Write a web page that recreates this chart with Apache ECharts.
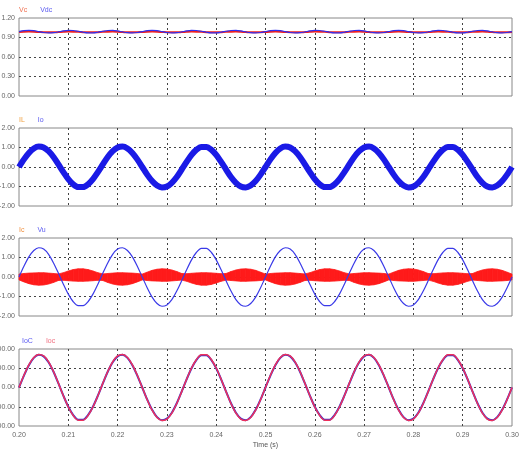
<!DOCTYPE html>
<html>
<head>
<meta charset="utf-8">
<script src="https://cdn.jsdelivr.net/npm/echarts@6/dist/echarts.min.js"></script>
<style>
html,body{margin:0;padding:0;background:#fff;}
#chart{width:520px;height:452px;}
</style>
</head>
<body>
<div id="chart"></div>
<script>
// sample times: 0.200 .. 0.300 s, 1 ms apart
var tStart = 0.2, tStep = 0.001, nPts = 101;
var xTicks = ['0.20','0.21','0.22','0.23','0.24','0.25','0.26','0.27','0.28','0.29','0.30'];

// panel 1
var vcVals = [
0.985,0.989,0.991,0.989,0.985,0.981,0.979,0.980,0.984,0.988,0.991,0.990,0.987,0.982,0.979,0.979,0.982,0.987,0.990,0.991,0.988,0.984,0.980,0.979,0.981,
0.985,0.989,0.991,0.989,0.985,0.981,0.979,0.980,0.984,0.988,0.991,0.990,0.987,0.982,0.979,0.979,0.982,0.987,0.990,0.991,0.988,0.984,0.980,0.979,0.981,
0.985,0.989,0.991,0.989,0.985,0.981,0.979,0.980,0.984,0.988,0.991,0.990,0.987,0.982,0.979,0.979,0.982,0.987,0.990,0.991,0.988,0.984,0.980,0.979,0.981,
0.985,0.989,0.991,0.989,0.985,0.981,0.979,0.980,0.984,0.988,0.991,0.990,0.987,0.982,0.979,0.979,0.982,0.987,0.990,0.991,0.988,0.984,0.980,0.979,0.981,
0.985];
var vdcVals = [
0.991,1.005,1.010,1.005,0.991,0.977,0.970,0.974,0.986,1.001,1.009,1.008,0.996,0.981,0.971,0.971,0.981,0.996,1.008,1.009,1.001,0.986,0.974,0.970,0.977,
0.991,1.005,1.010,1.005,0.991,0.977,0.970,0.974,0.986,1.001,1.009,1.008,0.996,0.981,0.971,0.971,0.981,0.996,1.008,1.009,1.001,0.986,0.974,0.970,0.977,
0.991,1.005,1.010,1.005,0.991,0.977,0.970,0.974,0.986,1.001,1.009,1.008,0.996,0.981,0.971,0.971,0.981,0.996,1.008,1.009,1.001,0.986,0.974,0.970,0.977,
0.991,1.005,1.010,1.005,0.991,0.977,0.970,0.974,0.986,1.001,1.009,1.008,0.996,0.981,0.971,0.971,0.981,0.996,1.008,1.009,1.001,0.986,0.974,0.970,0.977,
0.991];

// panel 2
var ilVals = [
0,0.37,0.69,0.91,1.00,0.95,0.77,0.48,0.13,-0.25,-0.59,-0.84,-0.98,-0.98,-0.84,-0.59,-0.25,0.13,0.48,0.77,0.95,1.00,0.91,0.69,0.37,
0,-0.37,-0.69,-0.91,-1.00,-0.95,-0.77,-0.48,-0.13,0.25,0.59,0.84,0.98,0.98,0.84,0.59,0.25,-0.13,-0.48,-0.77,-0.95,-1.00,-0.91,-0.69,-0.37,
0,0.37,0.69,0.91,1.00,0.95,0.77,0.48,0.13,-0.25,-0.59,-0.84,-0.98,-0.98,-0.84,-0.59,-0.25,0.13,0.48,0.77,0.95,1.00,0.91,0.69,0.37,
0,-0.37,-0.69,-0.91,-1.00,-0.95,-0.77,-0.48,-0.13,0.25,0.59,0.84,0.98,0.98,0.84,0.59,0.25,-0.13,-0.48,-0.77,-0.95,-1.00,-0.91,-0.69,-0.37,
0];
var ioVals = [
0,0.39,0.72,0.95,1.05,1.00,0.81,0.51,0.13,-0.26,-0.62,-0.89,-1.03,-1.03,-0.89,-0.62,-0.26,0.13,0.51,0.81,1.00,1.05,0.95,0.72,0.39,
0,-0.39,-0.72,-0.95,-1.05,-1.00,-0.81,-0.51,-0.13,0.26,0.62,0.89,1.03,1.03,0.89,0.62,0.26,-0.13,-0.51,-0.81,-1.00,-1.05,-0.95,-0.72,-0.39,
0,0.39,0.72,0.95,1.05,1.00,0.81,0.51,0.13,-0.26,-0.62,-0.89,-1.03,-1.03,-0.89,-0.62,-0.26,0.13,0.51,0.81,1.00,1.05,0.95,0.72,0.39,
0,-0.39,-0.72,-0.95,-1.05,-1.00,-0.81,-0.51,-0.13,0.26,0.62,0.89,1.03,1.03,0.89,0.62,0.26,-0.13,-0.51,-0.81,-1.00,-1.05,-0.95,-0.72,-0.39,
0];

// panel 3 (Ic drawn as a noisy band: upper / lower edges)
var icUpper = [
0.15,0.18,0.20,0.21,0.22,0.22,0.20,0.18,0.16,0.22,0.31,0.38,0.42,0.42,0.38,0.31,0.22,0.16,0.18,0.20,0.22,0.22,0.21,0.20,0.18,
0.15,0.25,0.34,0.40,0.42,0.41,0.36,0.28,0.18,0.17,0.19,0.21,0.22,0.22,0.21,0.19,0.17,0.18,0.28,0.36,0.41,0.42,0.40,0.34,0.25,
0.15,0.18,0.20,0.21,0.22,0.22,0.20,0.18,0.16,0.22,0.31,0.38,0.42,0.42,0.38,0.31,0.22,0.16,0.18,0.20,0.22,0.22,0.21,0.20,0.18,
0.15,0.25,0.34,0.40,0.42,0.41,0.36,0.28,0.18,0.17,0.19,0.21,0.22,0.22,0.21,0.19,0.17,0.18,0.28,0.36,0.41,0.42,0.40,0.34,0.25,
0.15];
var icLower = [
-0.15,-0.25,-0.34,-0.40,-0.42,-0.41,-0.36,-0.28,-0.18,-0.17,-0.19,-0.21,-0.22,-0.22,-0.21,-0.19,-0.17,-0.18,-0.28,-0.36,-0.41,-0.42,-0.40,-0.34,-0.25,
-0.15,-0.18,-0.20,-0.21,-0.22,-0.22,-0.20,-0.18,-0.16,-0.22,-0.31,-0.38,-0.42,-0.42,-0.38,-0.31,-0.22,-0.16,-0.18,-0.20,-0.22,-0.22,-0.21,-0.20,-0.18,
-0.15,-0.25,-0.34,-0.40,-0.42,-0.41,-0.36,-0.28,-0.18,-0.17,-0.19,-0.21,-0.22,-0.22,-0.21,-0.19,-0.17,-0.18,-0.28,-0.36,-0.41,-0.42,-0.40,-0.34,-0.25,
-0.15,-0.18,-0.20,-0.21,-0.22,-0.22,-0.20,-0.18,-0.16,-0.22,-0.31,-0.38,-0.42,-0.42,-0.38,-0.31,-0.22,-0.16,-0.18,-0.20,-0.22,-0.22,-0.21,-0.20,-0.18,
-0.15];
var vuVals = [
0,0.55,1.03,1.36,1.50,1.43,1.16,0.72,0.19,-0.37,-0.88,-1.27,-1.47,-1.47,-1.27,-0.88,-0.37,0.19,0.72,1.16,1.43,1.50,1.36,1.03,0.55,
0,-0.55,-1.03,-1.36,-1.50,-1.43,-1.16,-0.72,-0.19,0.37,0.88,1.27,1.47,1.47,1.27,0.88,0.37,-0.19,-0.72,-1.16,-1.43,-1.50,-1.36,-1.03,-0.55,
0,0.55,1.03,1.36,1.50,1.43,1.16,0.72,0.19,-0.37,-0.88,-1.27,-1.47,-1.47,-1.27,-0.88,-0.37,0.19,0.72,1.16,1.43,1.50,1.36,1.03,0.55,
0,-0.55,-1.03,-1.36,-1.50,-1.43,-1.16,-0.72,-0.19,0.37,0.88,1.27,1.47,1.47,1.27,0.88,0.37,-0.19,-0.72,-1.16,-1.43,-1.50,-1.36,-1.03,-0.55,
0];

// panel 4
var iocBlue = [
0,124,232,308,339,323,262,164,42,-85,-200,-287,-334,-334,-287,-200,-85,42,164,262,323,339,308,232,124,
0,-124,-232,-308,-339,-323,-262,-164,-42,85,200,287,334,334,287,200,85,-42,-164,-262,-323,-339,-308,-232,-124,
0,124,232,308,339,323,262,164,42,-85,-200,-287,-334,-334,-287,-200,-85,42,164,262,323,339,308,232,124,
0,-124,-232,-308,-339,-323,-262,-164,-42,85,200,287,334,334,287,200,85,-42,-164,-262,-323,-339,-308,-232,-124,
0];
var iocRed = [
0,127,236,312,344,328,266,166,43,-86,-203,-291,-339,-339,-291,-203,-86,43,166,266,328,344,312,236,127,
0,-127,-236,-312,-344,-328,-266,-166,-43,86,203,291,339,339,291,203,86,-43,-166,-266,-328,-344,-312,-236,-127,
0,127,236,312,344,328,266,166,43,-86,-203,-291,-339,-339,-291,-203,-86,43,166,266,328,344,312,236,127,
0,-127,-236,-312,-344,-328,-266,-166,-43,86,203,291,339,339,291,203,86,-43,-166,-266,-328,-344,-312,-236,-127,
0];

var yMin = [0, -2, -2, -400];
var yMax = [1.2, 2, 2, 400];
var yStep = [0.3, 1, 1, 200];

var times = [];
for (var i = 0; i < nPts; i++) times.push(+(tStart + i * tStep).toFixed(3));

function pts(vals){
	return vals.map(function(v, i){ return [times[i], v]; });
}

var myChart = echarts.init(document.getElementById('chart'));

var panelTop = [18, 128, 238, 349];
var panelH = [78, 78, 78, 77];
var grids = [], xAxes = [], yAxes = [];
var dash = {color:'#444', type:[2,3], width:1};

for (var p = 0; p < 4; p++) {
	grids.push({left:19, right:8, top:panelTop[p], height:panelH[p], show:true, borderColor:'#888', borderWidth:1,
		containLabel:false, outerBoundsMode:'none'});
	xAxes.push({
		type:'value', gridIndex:p, min:0.2, max:0.3, interval:0.01,
		axisLine:{show:false}, axisTick:{show:false},
		splitLine:{show:true, lineStyle:dash, showMinLine:false, showMaxLine:false},
		axisLabel:{show:p === 3, fontSize:7, color:'#666', margin:6, fontFamily:'Liberation Sans',
			formatter:function(v){ return xTicks[Math.round((v - 0.2) * 100)]; }},
		name:p === 3 ? 'Time (s)' : '', nameLocation:'middle', nameGap:16,
		nameTextStyle:{fontSize:7, color:'#555', fontFamily:'Liberation Sans'}
	});
	yAxes.push({
		type:'value', gridIndex:p, min:yMin[p], max:yMax[p], interval:yStep[p],
		axisLine:{show:false}, axisTick:{show:false},
		splitLine:{show:true, lineStyle:dash, showMinLine:false, showMaxLine:false},
		axisLabel:{fontSize:7, color:'#666', margin:4, fontFamily:'Liberation Sans',
			formatter:function(v){ return v.toFixed(2); }}
	});
}

function line(name, p, vals, color, width){
	return {name:name, type:'line', xAxisIndex:p, yAxisIndex:p, data:pts(vals),
		symbol:'none', smooth:0.3, lineStyle:{color:color, width:width}, itemStyle:{color:color}};
}

// Ic band: one quad per sample step, from the lower edge to the upper edge
function icBand(params, api){
	var k = params.dataIndex;
	if (k >= nPts - 1) return null;
	var poly = [
		api.coord([times[k], icLower[k]]),
		api.coord([times[k], icUpper[k]]),
		api.coord([times[k + 1], icUpper[k + 1]]),
		api.coord([times[k + 1], icLower[k + 1]])
	];
	return {type:'polygon', shape:{points:poly},
		style:{fill:'#ff1a1a', stroke:'#ff1a1a', lineWidth:0.8}};
}

var series = [
	line('Vc', 0, vcVals, '#f02020', 2),
	line('Vdc', 0, vdcVals, '#3030f0', 1.2),
	line('IL', 1, ilVals, '#f03060', 1),
	line('Io', 1, ioVals, '#1a1ae6', 6),
	{name:'Ic', type:'custom', xAxisIndex:2, yAxisIndex:2, renderItem:icBand,
		itemStyle:{color:'#ff1a1a'},
		data:times.map(function(t, k){ return [t, icLower[k], icUpper[k]]; }),
		encode:{x:0, y:[1, 2]}},
	line('Vu', 2, vuVals, '#3a3ae8', 1.2),
	line('IoC', 3, iocBlue, '#3030d0', 2),
	line('Ioc', 3, iocRed, '#f0305a', 1.5)
];

function leg(top, left, items){
	return {top:top, left:left, padding:0, icon:'none', itemWidth:0, itemHeight:8, itemGap:8, selectedMode:false,
		textStyle:{fontSize:7, fontFamily:'Liberation Sans'},
		data:items.map(function(it){ return {name:it[0], textStyle:{color:it[1]}}; })};
}

var option = {
	animation:false,
	backgroundColor:'#fff',
	legend:[
		leg(6, 14, [['Vc','#f07050'], ['Vdc','#5a5af0']]),
		leg(116, 14, [['IL','#f0a040'], ['Io','#5a5af0']]),
		leg(226, 14, [['Ic','#f09040'], ['Vu','#5a5af0']]),
		leg(337, 17, [['IoC','#5a5af0'], ['Ioc','#f07080']])
	],
	grid:grids,
	xAxis:xAxes,
	yAxis:yAxes,
	series:series
};

myChart.setOption(option);
</script>
</body>
</html>
